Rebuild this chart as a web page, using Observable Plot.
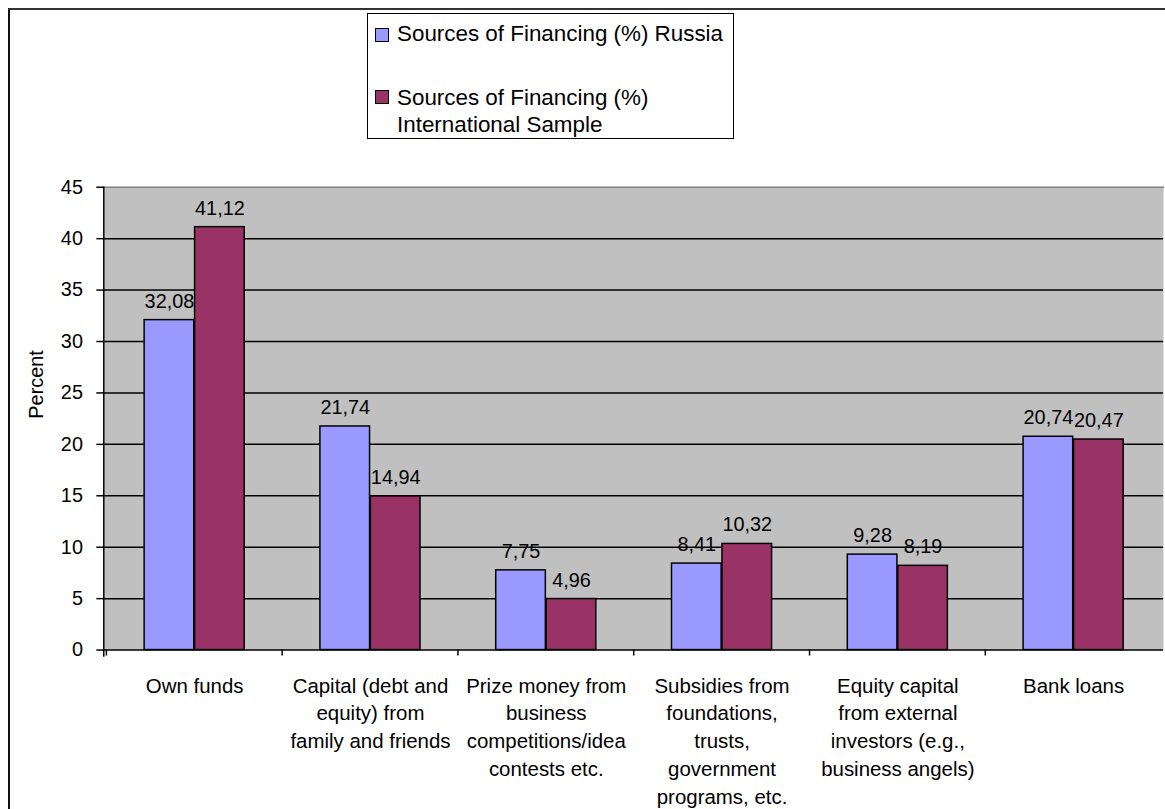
<!DOCTYPE html>
<html>
<head>
<meta charset="utf-8">
<script src="https://cdn.jsdelivr.net/npm/d3@7"></script>
<script src="https://cdn.jsdelivr.net/npm/@observablehq/plot@0.6"></script>
<style>
  html, body { margin: 0; padding: 0; overflow: hidden; background: #fff; }
  #wrap { position: relative; width: 1165px; height: 809px; overflow: hidden; font-family: "Liberation Sans", Arial, sans-serif; }
  #outer { position: absolute; left: 8px; top: 8px; width: 1300px; height: 900px; border-left: 2px solid #111; border-top: 2px solid #333; }
  #legend { position: absolute; left: 367px; top: 13px; width: 365px; height: 124px; border: 1px solid #000; background: #fff; }
  .sw { position: absolute; left: 7px; width: 12px; height: 12px; border: 1px solid #000; }
  .lt { position: absolute; left: 29px; font-size: 22.4px; line-height: 27px; white-space: nowrap; color: #000; }
  #chart { position: absolute; left: 0; top: 150px; }
</style>
</head>
<body>
<div id="wrap">
  <div id="outer"></div>
  <div id="legend"></div>
  <div id="chart"></div>
</div>
<script>
const categories = [
  "Own funds",
  "Capital (debt and equity) from family and friends",
  "Prize money from business competitions/idea contests etc.",
  "Subsidies from foundations, trusts, government programs, etc.",
  "Equity capital from external investors (e.g., business angels)",
  "Bank loans"
];
const categoryLabels = [
  "Own funds",
  "Capital (debt and\nequity) from\nfamily and friends",
  "Prize money from\nbusiness\ncompetitions/idea\ncontests etc.",
  "Subsidies from\nfoundations,\ntrusts,\ngovernment\nprograms, etc.",
  "Equity capital\nfrom external\ninvestors (e.g.,\nbusiness angels)",
  "Bank loans"
];
const seriesNames = ["Sources of Financing (%) Russia", "Sources of Financing (%) International Sample"];
const russia = [32.08, 21.74, 7.75, 8.41, 9.28, 20.74];
const international = [41.12, 14.94, 4.96, 10.32, 8.19, 20.47];
const yTicks = [0, 5, 10, 15, 20, 25, 30, 35, 40, 45];
const colors = ["#9999FF", "#993366"];

// Legend (HTML)
const legend = document.getElementById("legend");
legend.innerHTML = `
  <div class="sw" style="top:14px;background:${colors[0]}"></div>
  <div class="lt" style="top:6px">${seriesNames[0]}</div>
  <div class="sw" style="top:76px;background:${colors[1]}"></div>
  <div class="lt" style="top:70px">Sources of Financing (%)<br>International Sample</div>
`;

const fmt = v => d3.format(".2f")(v).replace(".", ",");
const rows = categories.map((c, i) => ({cat: c, label: categoryLabels[i], r: russia[i], n: international[i]}));

const width = 1173, height = 659;
const marginLeft = 104, marginRight = 2, marginTop = 37, marginBottom = height - 503;
const bw = (width - marginLeft - marginRight) / categories.length;
const barW = 50.8;
const outerGap = (bw - 2 * barW) / 2;

const plot = Plot.plot({
  width, height, marginLeft, marginRight, marginTop, marginBottom,
  style: {fontFamily: "'Liberation Sans', Arial, sans-serif", background: "transparent", overflow: "visible"},
  x: {domain: categories, padding: 0, axis: null},
  y: {domain: [0, 45], axis: null},
  marks: [
    Plot.frame({fill: "#C0C0C0", stroke: null}),
    Plot.gridY(yTicks.filter(t => t > 0 && t < 45), {stroke: "#000", strokeOpacity: 1, strokeWidth: 1.5}),
    Plot.frame({anchor: "top", stroke: "#808080", strokeWidth: 1.5}),
    Plot.barY(rows, {x: "cat", y: "r", fill: colors[0], stroke: "#000", strokeWidth: 1.5,
      insetLeft: outerGap, insetRight: outerGap + barW}),
    Plot.barY(rows, {x: "cat", y: "n", fill: colors[1], stroke: "#000", strokeWidth: 1.5,
      insetLeft: outerGap + barW, insetRight: outerGap}),
    Plot.ruleY([0], {stroke: "#000", strokeWidth: 1.5}),
    Plot.frame({anchor: "left", stroke: "#000", strokeWidth: 1.5, insetBottom: -6}),
    Plot.ruleX(rows, {x: "cat", y1: 0, y2: 0, dx: -bw / 2, insetBottom: -6, stroke: "#000", strokeWidth: 1.5}),
    Plot.axisY({ticks: yTicks, tickSize: 7, tickPadding: 14, fontSize: 20, label: null, stroke: "#000", strokeWidth: 1.5}),
    Plot.text(rows, {x: "cat", y: "r", text: d => fmt(d.r), dx: -barW / 2, dy: -19, lineAnchor: "middle", fontSize: 20, fill: "#000"}),
    Plot.text(rows, {x: "cat", y: "n", text: d => fmt(d.n), dx: barW / 2, dy: -19, lineAnchor: "middle", fontSize: 20, fill: "#000"}),
    Plot.text(rows, {x: "cat", text: "label", frameAnchor: "bottom", lineAnchor: "top", dy: 23, lineHeight: 1.36, fontSize: 20.6, fill: "#000"}),
    Plot.text(["Percent"], {frameAnchor: "left", dx: -68, rotate: -90, lineAnchor: "middle", fontSize: 20, fill: "#000"})
  ]
});
document.getElementById("chart").appendChild(plot);
</script>
</body>
</html>
